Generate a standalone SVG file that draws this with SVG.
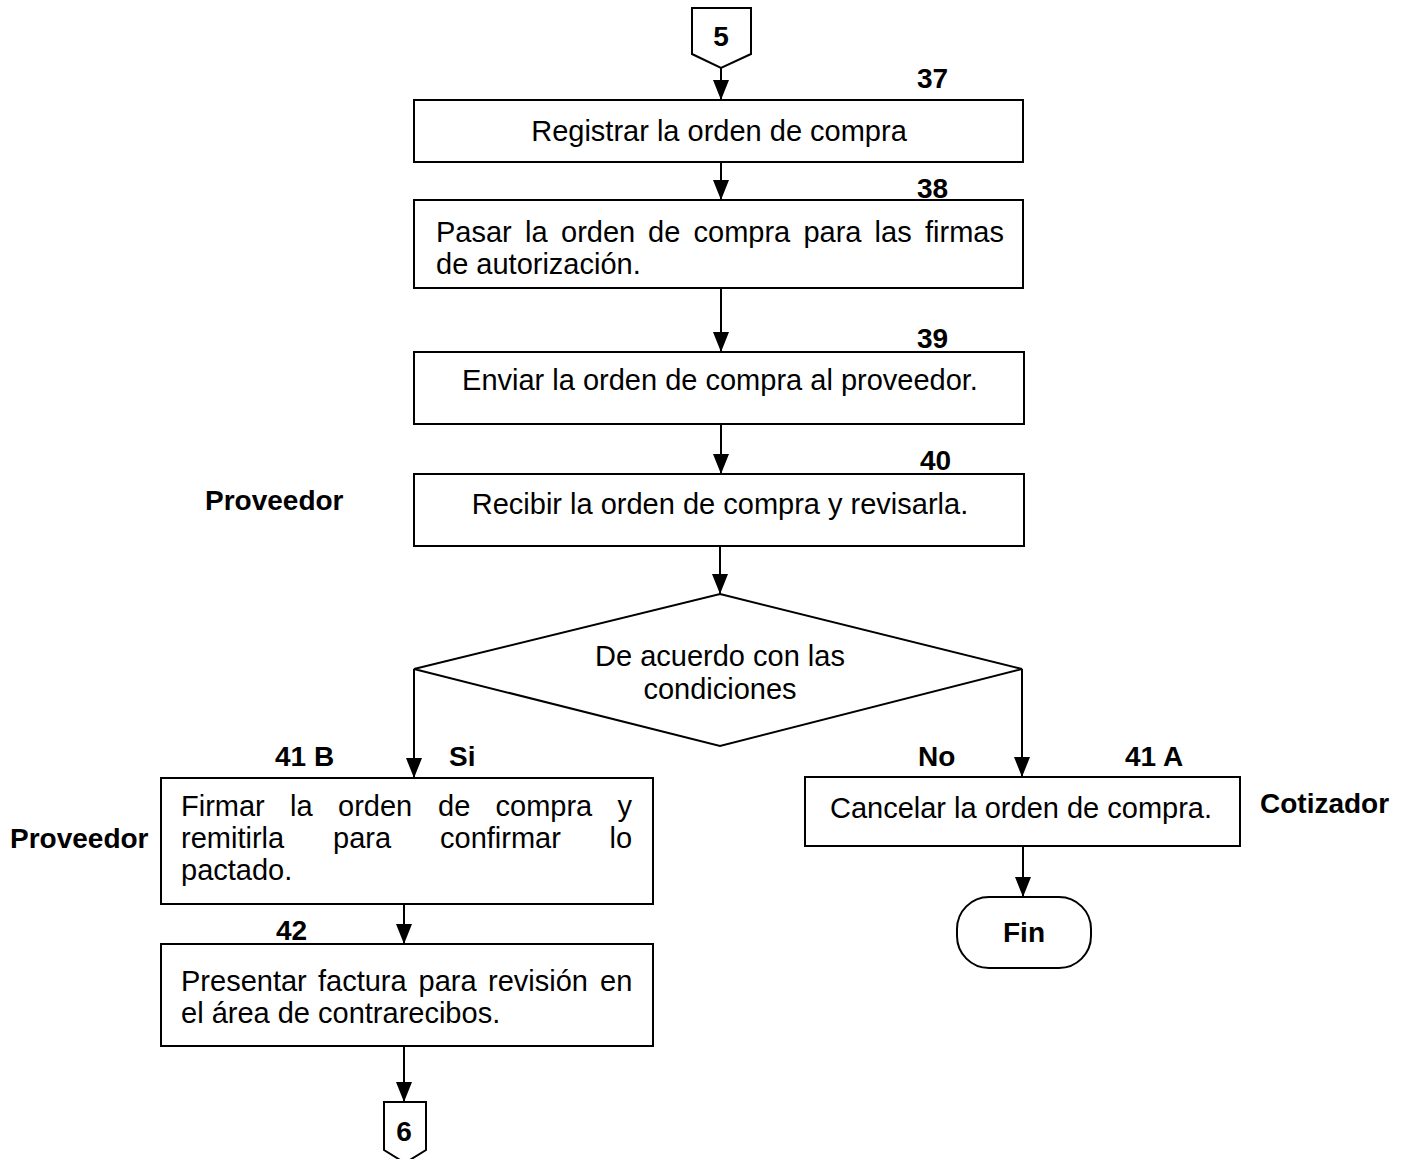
<svg xmlns="http://www.w3.org/2000/svg" width="1405" height="1159" viewBox="0 0 1405 1159">
<style>
.box{fill:#fff;stroke:#000;stroke-width:2}
.t{font-family:"Liberation Sans",Arial,sans-serif;font-size:29px;fill:#000}
.c{text-anchor:middle}
.b{font-family:"Liberation Sans",Arial,sans-serif;font-size:28px;font-weight:bold;fill:#000}
.ln{stroke:#000;stroke-width:2;fill:none;marker-end:url(#ah)}
</style>
<defs>
<marker id="ah" markerUnits="userSpaceOnUse" markerWidth="20" markerHeight="16" viewBox="0 0 20 16" refX="20" refY="8" orient="auto">
<path d="M0,0 L20,8 L0,16 Z" fill="#000"/>
</marker>
</defs>
<rect width="1405" height="1159" fill="#fff"/>
<g id="connectors">
<line class="ln" x1="721" y1="68" x2="721" y2="100"/>
<line class="ln" x1="721" y1="162" x2="721" y2="200"/>
<line class="ln" x1="721" y1="288" x2="721" y2="352"/>
<line class="ln" x1="721" y1="424" x2="721" y2="474"/>
<line class="ln" x1="720" y1="546" x2="720" y2="594"/>
<line class="ln" x1="414" y1="669" x2="414" y2="778"/>
<line class="ln" x1="1022" y1="669" x2="1022" y2="777"/>
<line class="ln" x1="404" y1="904" x2="404" y2="944"/>
<line class="ln" x1="1023" y1="846" x2="1023" y2="897"/>
<line class="ln" x1="404" y1="1046" x2="404" y2="1102"/>
</g>
<g id="conn5">
<polygon class="box" points="692,8 751,8 751,54 721,68 692,54"/>
<text class="b c" x="721" y="46">5</text>
</g>
<g id="n37">
<rect class="box" x="414" y="100" width="609" height="62"/>
<text class="t c" x="719" y="141">Registrar la orden de compra</text>
<text class="b" x="917" y="88">37</text>
</g>
<g id="n38">
<rect class="box" x="414" y="200" width="609" height="88"/>
<text class="t" y="242"><tspan x="436">Pasar</tspan><tspan x="525">la</tspan><tspan x="561">orden</tspan><tspan x="648">de</tspan><tspan x="693.5">compra</tspan><tspan x="803.4">para</tspan><tspan x="874.6">las</tspan><tspan x="925">firmas</tspan></text>
<text class="t" x="436" y="274">de autorización.</text>
<text class="b" x="917" y="198">38</text>
</g>
<g id="n39">
<rect class="box" x="414" y="352" width="610" height="72"/>
<text class="t c" x="720" y="390">Enviar la orden de compra al proveedor.</text>
<text class="b" x="917" y="348">39</text>
</g>
<g id="n40">
<rect class="box" x="414" y="474" width="610" height="72"/>
<text class="t c" x="720" y="514">Recibir la orden de compra y revisarla.</text>
<text class="b" x="920" y="470">40</text>
<text class="b" x="205" y="510">Proveedor</text>
</g>
<g id="decision">
<polygon class="box" points="720,594 1022,669 720,746 414,669"/>
<text class="t c" x="720" y="666">De acuerdo con las</text>
<text class="t c" x="720" y="699">condiciones</text>
</g>
<g id="labels">
<text class="b" x="449" y="766">Si</text>
<text class="b" x="918" y="766">No</text>
</g>
<g id="n41B">
<rect class="box" x="161" y="778" width="492" height="126"/>
<text class="t" y="816"><tspan x="181">Firmar</tspan><tspan x="290">la</tspan><tspan x="338">orden</tspan><tspan x="438">de</tspan><tspan x="495.5">compra</tspan><tspan x="617.5">y</tspan></text>
<text class="t" y="848"><tspan x="181">remitirla</tspan><tspan x="333">para</tspan><tspan x="440">confirmar</tspan><tspan x="609.5">lo</tspan></text>
<text class="t" x="181" y="880">pactado.</text>
<text class="b" x="275" y="766">41 B</text>
<text class="b" x="10" y="848">Proveedor</text>
</g>
<g id="n42">
<rect class="box" x="161" y="944" width="492" height="102"/>
<text class="t" y="991"><tspan x="181">Presentar</tspan><tspan x="318">factura</tspan><tspan x="418.5">para</tspan><tspan x="488">revisión</tspan><tspan x="600">en</tspan></text>
<text class="t" x="181" y="1023">el área de contrarecibos.</text>
<text class="b" x="276" y="940">42</text>
</g>
<g id="conn6">
<polygon class="box" points="384,1102 426,1102 426,1150 405,1163 384,1150"/>
<text class="b c" x="404" y="1141">6</text>
</g>
<g id="n41A">
<rect class="box" x="805" y="777" width="435" height="69"/>
<text class="t c" x="1021" y="818">Cancelar la orden de compra.</text>
<text class="b" x="1125" y="766">41 A</text>
<text class="b" x="1260" y="813">Cotizador</text>
</g>
<g id="fin">
<rect class="box" x="957" y="897" width="134" height="71" rx="32" ry="32"/>
<text class="b c" x="1024" y="942">Fin</text>
</g>
</svg>
